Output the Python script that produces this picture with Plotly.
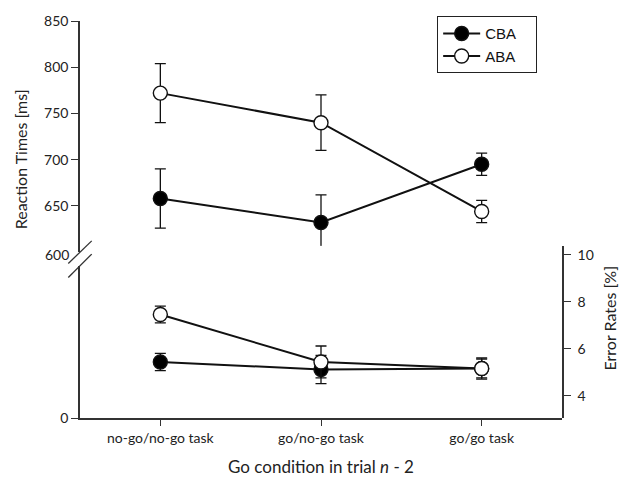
import plotly.graph_objects as go

categories = ["no-go/no-go task", "go/no-go task", "go/go task"]
rt_cba = [658, 632, 695]
rt_cba_err = [32, 30, 12]
rt_aba = [772, 740, 644]
rt_aba_err = [32, 30, 12]
er_cba = [5.44, 5.12, 5.16]
er_cba_err = [0.37, 0.6, 0.4]
er_aba = [7.46, 5.44, 5.16]
er_aba_err = [0.36, 0.68, 0.45]
rt_ticks = [650, 700, 750, 800, 850]
er_ticks = [4, 6, 8, 10]

xpos = list(range(len(categories)))
LINE = "#111111"
AX = "#333333"
FONT = "Lato"

fig = go.Figure()

def add(y, err, yaxis, fill, name, legend):
    fig.add_trace(go.Scatter(
        x=xpos, y=y, yaxis=yaxis, name=name, showlegend=legend,
        mode="lines+markers",
        line=dict(color=LINE, width=2),
        marker=dict(size=14, color=fill, line=dict(color=LINE, width=1.4)),
        error_y=dict(type="data", array=err, visible=True, color=LINE,
                     thickness=1.3, width=5.5),
    ))

add(rt_cba, rt_cba_err, "y", "black", "CBA\u2003", True)
add(rt_aba, rt_aba_err, "y", "white", "ABA\u2003", True)
add(er_cba, er_cba_err, "y4", "black", "CBA", False)
add(er_aba, er_aba_err, "y4", "white", "ABA", False)
# invisible trace to anchor the lower left axis
fig.add_trace(go.Scatter(x=[0], y=[0], yaxis="y3", mode="markers",
                         marker=dict(opacity=0), showlegend=False, hoverinfo="skip"))

tickfont = dict(family=FONT, size=14, color="#222")

fig.update_layout(
    width=627, height=484,
    margin=dict(l=80, r=65, t=19, b=66),
    paper_bgcolor="white", plot_bgcolor="white",
    showlegend=True,
    legend=dict(x=0.741, y=1.012, xanchor="left", yanchor="top",
                bordercolor="#222", borderwidth=1, bgcolor="white",
                font=dict(family="Liberation Sans", size=15, color="#111"),
                tracegroupgap=0, itemwidth=37),
    xaxis=dict(range=[-0.5, 2.5], tickvals=xpos, ticktext=categories,
               showline=True, linecolor=AX, linewidth=1.5, ticks="outside",
               ticklen=6, tickcolor=AX, tickwidth=1.3, showgrid=False,
               zeroline=False, anchor="y3", tickfont=tickfont),
    yaxis=dict(domain=[0.4178, 1.0], range=[600, 850], tickvals=rt_ticks,
               showline=True, linecolor=AX, linewidth=1.5, ticks="outside",
               ticklen=7, tickcolor=AX, tickwidth=1.3, showgrid=False,
               zeroline=False, anchor="x", tickfont=tickfont),
    yaxis3=dict(domain=[0, 0.3835], range=[0, 1], tickvals=[0],
                showline=True, linecolor=AX, linewidth=1.5, ticks="outside",
                ticklen=7, tickcolor=AX, tickwidth=1.3, showgrid=False,
                zeroline=False, anchor="x", tickfont=tickfont),
    yaxis4=dict(domain=[0, 0.4336], range=[3.056, 10.381], tickvals=er_ticks,
                side="right", anchor="x",
                showline=True, linecolor=AX, linewidth=1.5, ticks="outside",
                ticklen=7, tickcolor=AX, tickwidth=1.3, showgrid=False,
                zeroline=False, tickfont=tickfont, ticklabelstandoff=4),
)

# axis break marks
for (x0, y0, x1, y1) in [(-0.0243, 0.3892, 0.0243, 0.4461),
                         (-0.0243, 0.3541, 0.0243, 0.4128)]:
    fig.add_shape(type="line", xref="paper", yref="paper", x0=x0, y0=y0,
                  x1=x1, y1=y1, line=dict(color=AX, width=1.3))

titlefont = dict(family=FONT, size=16, color="#222")
fig.add_annotation(text="600", xref="paper", yref="y", x=-0.0187, y=600,
                   xanchor="right", yanchor="middle", showarrow=False,
                   font=tickfont, yshift=-2)
fig.add_annotation(text="Reaction Times [ms]", xref="paper", yref="paper",
                   x=(20 - 80) / 482, y=(418 - 158) / 399, textangle=-90,
                   xanchor="center", yanchor="middle",
                   showarrow=False, font=titlefont)
fig.add_annotation(text="Error Rates [%]", xref="paper", yref="paper",
                   x=(610 - 80) / 482, y=(418 - 318) / 399, textangle=-90,
                   xanchor="center", yanchor="middle",
                   showarrow=False, font=titlefont)
fig.add_annotation(text="Go condition in trial <i>n</i> - 2", xref="paper",
                   yref="paper", x=0.5, y=(418 - 467) / 399,
                   xanchor="center", yanchor="middle",
                   showarrow=False, font=dict(family=FONT, size=17, color="#222"))

fig.write_html("out.html", config={"displayModeBar": False},
               post_script="document.body.style.margin='0px';")
